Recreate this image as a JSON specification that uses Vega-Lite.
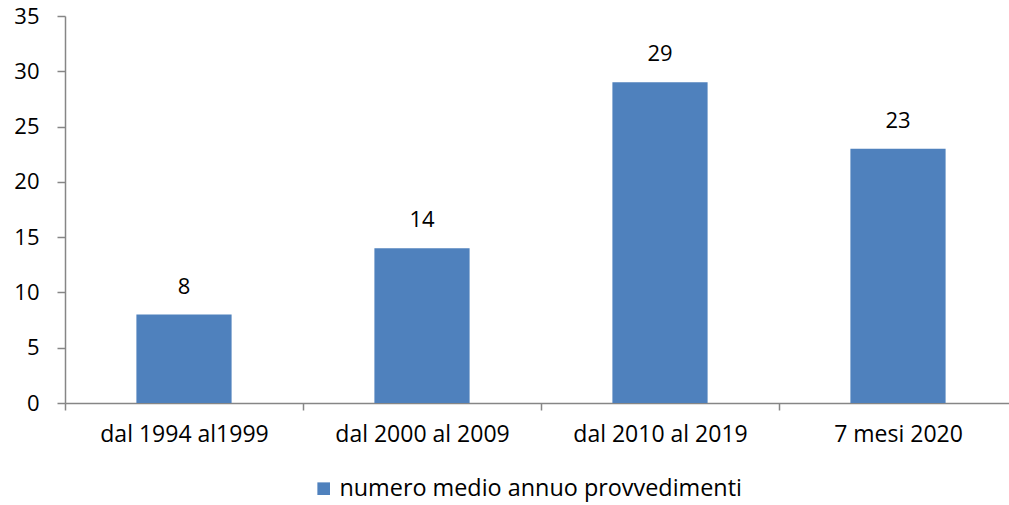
{
  "$schema": "https://vega.github.io/schema/vega-lite/v6.json",
  "width": 944,
  "height": 387,
  "autosize": {"type": "none"},
  "padding": {"left": 65, "top": 16, "right": 0, "bottom": 102},
  "background": "white",
  "config": {
    "view": {"stroke": null},
    "font": "Open Sans",
    "axis": {"labelFont": "Open Sans", "labelColor": "#000000", "domainColor": "#868686", "tickColor": "#868686", "grid": false, "title": null},
    "legend": {"labelFont": "Open Sans"}
  },
  "data": {
    "values": [
      {"periodo": "dal 1994 al1999", "valore": 8, "serie": "numero medio annuo provvedimenti"},
      {"periodo": "dal 2000 al 2009", "valore": 14, "serie": "numero medio annuo provvedimenti"},
      {"periodo": "dal 2010 al 2019", "valore": 29, "serie": "numero medio annuo provvedimenti"},
      {"periodo": "7 mesi 2020", "valore": 23, "serie": "numero medio annuo provvedimenti"}
    ]
  },
  "encoding": {
    "x": {
      "field": "periodo", "type": "nominal", "sort": null,
      "scale": {"paddingInner": 0, "paddingOuter": 0, "range": [0, 952]},
      "axis": {"labelAngle": 0, "labelFontSize": 23, "labelPadding": 13, "tickSize": 7, "tickBand": "extent", "domainWidth": 1.5, "tickWidth": 1.5}
    },
    "y": {
      "field": "valore", "type": "quantitative",
      "scale": {"domain": [0, 35], "nice": false},
      "axis": {"values": [0, 5, 10, 15, 20, 25, 30, 35], "labelFontSize": 22, "labelPadding": 18, "tickSize": 8, "domainWidth": 1.5, "tickWidth": 1.5}
    }
  },
  "layer": [
    {
      "mark": {"type": "bar", "color": "#4F81BD", "width": {"band": 0.4}},
      "encoding": {
        "color": {
          "field": "serie", "type": "nominal",
          "scale": {"range": ["#4F81BD"]},
          "legend": {"title": null, "orient": "none", "legendX": 247, "legendY": 461, "direction": "horizontal", "symbolType": "square", "symbolSize": 160, "symbolOpacity": 1, "labelFontSize": 23.4, "labelColor": "#000000", "labelLimit": 0, "symbolStrokeWidth": 0, "labelOffset": 4}
        }
      }
    },
    {
      "mark": {"type": "text", "baseline": "middle", "dy": -28, "fontSize": 22, "color": "#000000", "font": "Open Sans"},
      "encoding": {"text": {"field": "valore", "type": "quantitative"}}
    }
  ]
}
